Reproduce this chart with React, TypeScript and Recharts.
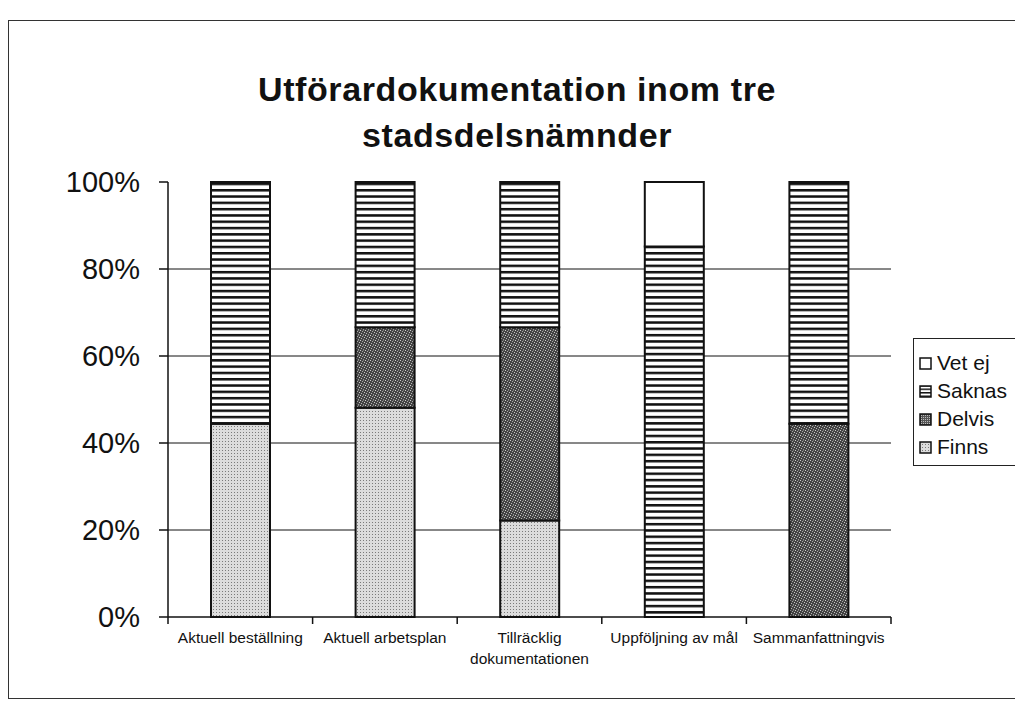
import { BarChart, Bar, XAxis, YAxis, CartesianGrid } from 'recharts';

const categories = [
  'Aktuell beställning',
  'Aktuell arbetsplan',
  'Tillräcklig dokumentationen',
  'Uppföljning av mål',
  'Sammanfattningvis',
];
const finns = [44.4, 48.1, 22.2, 0, 0];
const delvis = [0, 18.5, 44.4, 0, 44.4];
const saknas = [55.6, 33.4, 33.4, 85.2, 55.6];
const vetEj = [0, 0, 0, 14.8, 0];

const yTicks = [0, 20, 40, 60, 80, 100];
const gridValues = [20, 40, 60, 80];

const series = [
  { key: 'finns', name: 'Finns', fill: 'url(#pFinns)' },
  { key: 'delvis', name: 'Delvis', fill: 'url(#pDelvis)' },
  { key: 'saknas', name: 'Saknas', fill: 'url(#pSaknas)' },
  { key: 'vetEj', name: 'Vet ej', fill: '#ffffff' },
];

const data = categories.map((name, i) => ({
  name,
  finns: finns[i],
  delvis: delvis[i],
  saknas: saknas[i],
  vetEj: vetEj[i],
}));

const W = 1015;
const H = 701;
const PLOT_LEFT = 168;
const PLOT_RIGHT = 891;
const PLOT_TOP = 182;
const PLOT_BOTTOM = 617;
const BAND = (PLOT_RIGHT - PLOT_LEFT) / categories.length;
const FONT = '"Liberation Sans", Arial, sans-serif';

function CategoryTick(props: any) {
  const { x, payload, index } = props;
  const label: string = payload.value;
  const lines = label.length > 20 ? label.split(' ') : [label];
  const left = x - BAND / 2;
  return (
    <g>
      <line x1={left} y1={PLOT_BOTTOM} x2={left} y2={PLOT_BOTTOM + 7} stroke="#111" strokeWidth={1.5} />
      {index === categories.length - 1 && (
        <line x1={x + BAND / 2} y1={PLOT_BOTTOM} x2={x + BAND / 2} y2={PLOT_BOTTOM + 7} stroke="#111" strokeWidth={1.5} />
      )}
      {lines.map((ln, i) => (
        <text
          key={i}
          x={x}
          y={PLOT_BOTTOM + 26 + i * 21}
          textAnchor="middle"
          fontSize={15.5}
          fontFamily={FONT}
          fill="#111"
        >
          {ln}
        </text>
      ))}
    </g>
  );
}

function Swatch({ fill }: { fill: string }) {
  return (
    <svg width={13} height={13} style={{ marginRight: 5 }}>
      <rect x={1} y={1} width={11} height={11} fill={fill} stroke="#111" strokeWidth={1.5} />
    </svg>
  );
}

export default function App() {
  const legendItems = [...series].reverse();
  return (
    <div style={{ position: 'absolute', left: 0, top: 0, width: W, height: H, background: '#fff', fontFamily: FONT }}>
      <div
        style={{
          position: 'absolute',
          left: 8,
          top: 20,
          width: W + 20,
          height: 679,
          border: '1.5px solid #333',
          boxSizing: 'border-box',
        }}
      />
      <div
        style={{
          position: 'absolute',
          left: 0,
          top: 66,
          width: 1034,
          textAlign: 'center',
          fontWeight: 'bold',
          fontSize: 34,
          letterSpacing: 0.6,
          lineHeight: '46px',
          color: '#111',
        }}
      >
        Utförardokumentation inom tre
        <br />
        stadsdelsnämnder
      </div>

      <div style={{ position: 'absolute', left: 0, top: 0 }}>
        <BarChart
          width={W}
          height={H}
          data={data}
          margin={{ top: PLOT_TOP, right: W - PLOT_RIGHT, bottom: 24, left: 0 }}
          barSize={59}
        >
          <defs>
            <pattern id="pSaknas" patternUnits="userSpaceOnUse" width={8} height={6.3}>
              <rect width={8} height={6.3} fill="#fff" />
              <rect y={0} width={8} height={2.5} fill="#111" />
            </pattern>
            <pattern id="pFinns" patternUnits="userSpaceOnUse" width={3} height={3}>
              <rect width={3} height={3} fill="#dcdcdc" />
              <rect x={0} y={0} width={1} height={1} fill="#7a7a7a" />
            </pattern>
            <pattern id="pDelvis" patternUnits="userSpaceOnUse" width={5} height={5}>
              <rect width={5} height={5} fill="#444" />
              <rect x={0} y={0} width={1} height={1} fill="#d0d0d0" />
              <rect x={2} y={1} width={1} height={1} fill="#a8a8a8" />
              <rect x={4} y={2} width={1} height={1} fill="#c8c8c8" />
              <rect x={1} y={3} width={1} height={1} fill="#b8b8b8" />
              <rect x={3} y={4} width={1} height={1} fill="#999" />
              <rect x={3} y={0} width={1} height={1} fill="#777" />
            </pattern>
          </defs>
          <CartesianGrid vertical={false} horizontalValues={gridValues} stroke="#111" strokeWidth={1} />
          <XAxis
            dataKey="name"
            height={60}
            tickLine={false}
            tickSize={0}
            interval={0}
            axisLine={{ stroke: '#111', strokeWidth: 1.5 }}
            tick={<CategoryTick />}
          />
          <YAxis
            width={PLOT_LEFT}
            domain={[0, 100]}
            ticks={yTicks}
            tickFormatter={(v: number) => `${v}%`}
            tickSize={9}
            tickMargin={19}
            axisLine={{ stroke: '#111', strokeWidth: 1.5 }}
            tickLine={{ stroke: '#111', strokeWidth: 1.5 }}
            tick={{ fill: '#111', fontSize: 29, fontFamily: FONT }}
          />
          {series.map((s) => (
            <Bar
              key={s.key}
              dataKey={s.key}
              name={s.name}
              stackId="a"
              fill={s.fill}
              stroke="#111"
              strokeWidth={2}
              isAnimationActive={false}
            />
          ))}
        </BarChart>
      </div>

      <div
        style={{
          position: 'absolute',
          left: 913,
          top: 338,
          width: 130,
          height: 128,
          border: '1.5px solid #222',
          boxSizing: 'border-box',
          paddingTop: 10,
          paddingLeft: 5,
        }}
      >
        {legendItems.map((s) => (
          <div key={s.key} style={{ display: 'flex', alignItems: 'center', height: 28, fontSize: 21, color: '#111' }}>
            <Swatch fill={s.fill === '#ffffff' ? '#fff' : s.fill.replace('url(#', 'url(#lg')} />
            {s.name}
          </div>
        ))}
        <svg width={0} height={0} style={{ position: 'absolute' }}>
          <defs>
            <pattern id="lgpSaknas" patternUnits="userSpaceOnUse" width={4} height={3.5}>
              <rect width={4} height={3.5} fill="#fff" />
              <rect width={4} height={1.5} fill="#111" />
            </pattern>
            <pattern id="lgpFinns" patternUnits="userSpaceOnUse" width={3} height={3}>
              <rect width={3} height={3} fill="#dcdcdc" />
              <rect width={1} height={1} fill="#7a7a7a" />
            </pattern>
            <pattern id="lgpDelvis" patternUnits="userSpaceOnUse" width={2} height={2}>
              <rect width={2} height={2} fill="#555" />
              <rect width={1} height={1} fill="#bbb" />
            </pattern>
          </defs>
        </svg>
      </div>
    </div>
  );
}
